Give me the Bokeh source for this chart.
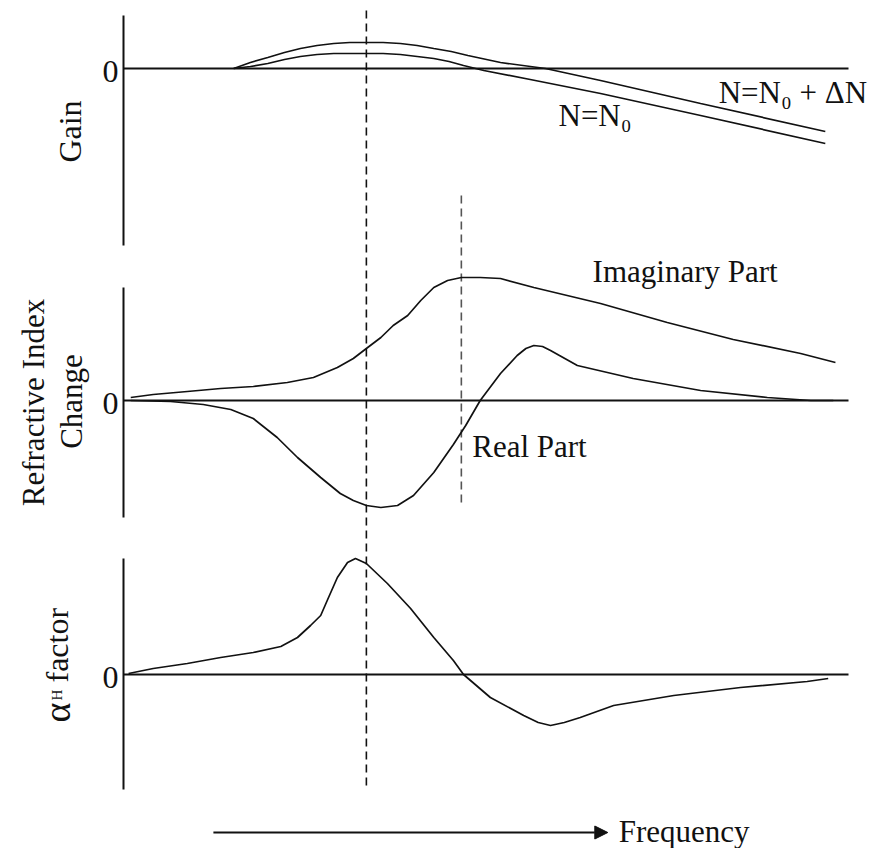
from bokeh.plotting import figure
from bokeh.models import Range1d, Label, Arrow, NormalHead
from bokeh.embed import file_html
from bokeh.resources import INLINE

# ---------------- data (frequency in arbitrary units, 0..10) ----------------
# Gain panel
gain_hi_f = [1.52, 1.75, 1.99, 2.22, 2.44, 2.67, 2.90, 3.12, 3.34, 3.58, 3.82, 4.05, 4.28, 4.52,
             4.75, 5.20, 5.82, 6.58, 7.96, 9.68]
gain_hi_v = [0.00, 0.06, 0.11, 0.16, 0.20, 0.23, 0.25, 0.26, 0.26, 0.26, 0.25, 0.23, 0.20, 0.17,
             0.13, 0.06, 0.00, -0.12, -0.35, -0.63]
gain_lo_f = [1.52, 1.75, 1.99, 2.22, 2.44, 2.67, 2.90, 3.12, 3.34, 3.58, 3.82, 4.05, 4.28, 4.49,
             4.69, 4.97, 5.61, 6.58, 7.96, 9.68]
gain_lo_v = [0.00, 0.02, 0.05, 0.09, 0.12, 0.14, 0.15, 0.15, 0.15, 0.15, 0.14, 0.12, 0.10, 0.07,
             0.03, -0.02, -0.11, -0.25, -0.47, -0.75]

# Refractive index change panel
imag_f = [0.10, 0.41, 0.88, 1.34, 1.79, 2.26, 2.62, 2.95, 3.17, 3.35, 3.55, 3.72, 3.92,
          4.10, 4.28, 4.47, 4.66, 4.92, 5.20, 5.66, 6.58, 7.50, 8.41, 9.34, 9.82]
imag_v = [0.03, 0.06, 0.09, 0.12, 0.14, 0.18, 0.23, 0.33, 0.42, 0.52, 0.63, 0.75, 0.85,
          1.00, 1.13, 1.20, 1.23, 1.23, 1.22, 1.13, 0.97, 0.78, 0.61, 0.47, 0.38]
real_f = [0.10, 0.65, 1.10, 1.48, 1.79, 2.12, 2.40, 2.72, 2.99, 3.17, 3.35, 3.55, 3.78, 4.00,
          4.28, 4.55, 4.72, 4.92, 5.20, 5.43, 5.55, 5.66, 5.78, 5.89, 6.26, 7.03, 7.96, 8.88, 9.48, 9.79]
real_v = [0.00, -0.01, -0.04, -0.09, -0.18, -0.37, -0.57, -0.77, -0.93, -1.00, -1.05, -1.07, -1.05, -0.95,
          -0.72, -0.44, -0.25, 0.00, 0.27, 0.45, 0.52, 0.55, 0.54, 0.50, 0.35, 0.22, 0.10, 0.03, 0.00, 0.00]

# alpha_H factor panel
alpha_f = [0.07, 0.41, 0.88, 1.34, 1.79, 2.17, 2.40, 2.58, 2.72, 2.81, 2.95, 3.09, 3.20, 3.35,
           3.64, 3.96, 4.28, 4.55, 4.69, 5.06, 5.52, 5.72, 5.89, 6.08, 6.30, 6.76, 7.59, 8.51, 9.43, 9.72]
alpha_v = [0.01, 0.06, 0.11, 0.17, 0.22, 0.28, 0.37, 0.49, 0.59, 0.74, 0.97, 1.12, 1.16, 1.11,
           0.91, 0.66, 0.37, 0.14, 0.00, -0.23, -0.41, -0.48, -0.51, -0.48, -0.43, -0.31, -0.21, -0.13, -0.07, -0.04]

# marker frequencies (dashed lines)
gain_peak_f = 3.35
index_peak_f = 4.66

# axis extents per panel (units of each panel)
gain_axis = (-1.77, 0.53)
index_axis = (-1.17, 1.13)
alpha_axis = (-1.15, 1.16)
freq_span = (0.0, 10.0)

# ---------------- layout ----------------
W, H = 874, 848
PX_X = 72.5      # px per frequency unit
X0_PX = 123      # px from figure left to f = 0
PX_Y = 100.0     # px per panel unit
DY = 0.08        # text baseline correction (panel units)
DX = -0.14       # rotated text baseline correction (frequency units)


def yr(zero_px):
    # zero_px: pixel (from figure top) of a panel's zero line
    return Range1d(start=-(H - zero_px) / PX_Y, end=zero_px / PX_Y)


p = figure(width=W, height=H, output_backend="svg", toolbar_location=None,
           x_axis_location=None, y_axis_location=None, min_border=0,
           x_range=Range1d(-X0_PX / PX_X, (W - X0_PX) / PX_X),
           y_range=yr(400))
p.extra_y_ranges = {"gain": yr(68), "alpha": yr(674)}
p.outline_line_color = None
p.grid.visible = False
p.background_fill_color = "white"
p.border_fill_color = "white"

INK = "#111111"
FONT = "Liberation Serif"


def lab(x, y, text, rng="default", size="31px", **kw):
    p.add_layout(Label(x=x, y=y, y_range_name=rng, text=text, text_font=FONT,
                       text_font_size=size, text_color=INK, **kw))


# axes lines and zero lines
for name, (lo, hi) in (("gain", gain_axis), ("default", index_axis), ("alpha", alpha_axis)):
    p.segment(x0=[freq_span[0]], y0=[lo], x1=[freq_span[0]], y1=[hi],
              line_color=INK, line_width=2, y_range_name=name)
    p.segment(x0=[freq_span[0]], y0=[0], x1=[freq_span[1]], y1=[0],
              line_color=INK, line_width=2, y_range_name=name)
    lab(-0.07, -0.11 + DY, "0", name, size="32px", text_align="right",
        text_baseline="alphabetic")

# dashed marker lines
p.segment(x0=[gain_peak_f], y0=[3.9], x1=[gain_peak_f], y1=[-3.9],
          line_color=INK, line_width=1.6, line_dash="8 5")
p.segment(x0=[index_peak_f], y0=[2.05], x1=[index_peak_f], y1=[-1.02],
          line_color="#555555", line_width=1.6, line_dash="8 5")

# curves
LW = 1.7
p.line(gain_hi_f, gain_hi_v, line_color=INK, line_width=LW, y_range_name="gain")
p.line(gain_lo_f, gain_lo_v, line_color=INK, line_width=LW, y_range_name="gain")
p.line(imag_f, imag_v, line_color=INK, line_width=LW)
p.line(real_f, real_v, line_color=INK, line_width=LW)
p.line(alpha_f, alpha_v, line_color=INK, line_width=LW, y_range_name="alpha")

# curve labels
lab(8.21, -0.32 + DY, "N=N\u2080 + \u0394N", "gain", text_align="left", text_baseline="alphabetic")
lab(6.00, -0.55 + DY, "N=N\u2080", "gain", text_align="left", text_baseline="alphabetic")
lab(6.47, 1.21 + DY, "Imaginary Part", text_align="left", text_baseline="alphabetic")
lab(4.81, -0.54 + DY, "Real Part", text_align="left", text_baseline="alphabetic")

# panel titles (rotated)
ang = 1.5707963
lab(-0.593 + DX, -0.63, "Gain", "gain", size="32px", angle=ang, text_align="center",
    text_baseline="alphabetic")
lab(-1.103 + DX, -0.02, "Refractive Index", angle=ang, text_align="center",
    text_baseline="alphabetic")
lab(-0.579 + DX, -0.01, "Change", angle=ang, text_align="center",
    text_baseline="alphabetic")
lab(-0.772 + DX, -0.48, "\u03b1", "alpha", size="38px", angle=ang, text_align="left",
    text_baseline="alphabetic")
lab(-0.772 + DX, -0.26, "H", "alpha", size="15px", angle=ang, text_align="left",
    text_baseline="alphabetic")
lab(-0.772 + DX, -0.08, "factor", "alpha", size="32px", angle=ang, text_align="left",
    text_baseline="alphabetic")

# frequency arrow
p.add_layout(Arrow(end=NormalHead(size=13, fill_color=INK, line_color=INK),
                   x_start=1.24, y_start=-1.58, x_end=6.68, y_end=-1.58,
                   line_color=INK, line_width=2, y_range_name="alpha"))
lab(6.83, -1.65 + DY, "Frequency", "alpha", text_align="left", text_baseline="alphabetic")

open("out.html", "w").write(file_html(p, INLINE))
